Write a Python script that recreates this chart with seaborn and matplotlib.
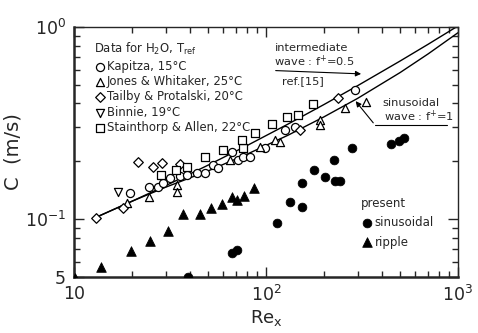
import matplotlib
matplotlib.use("Agg")
import numpy as np
import pandas as pd
import seaborn as sns
import matplotlib.pyplot as plt

# ---------------- data ----------------
kapitza_re = [19.6, 24.6, 27.4, 29.1, 31.6, 35.6, 38.8, 43.7, 48.1, 52.9, 56.2, 66.5, 71.5, 75.9, 82.5, 98.9, 126, 141, 291]
kapitza_c = [0.137, 0.147, 0.147, 0.154, 0.164, 0.168, 0.170, 0.174, 0.174, 0.191, 0.184, 0.223, 0.203, 0.210, 0.210, 0.234, 0.291, 0.301, 0.470]

jones_re = [18.9, 24.6, 34.4, 34.4, 64.9, 93.1, 111, 118, 191, 191, 258, 332]
jones_c = [0.121, 0.130, 0.150, 0.138, 0.203, 0.237, 0.258, 0.252, 0.328, 0.309, 0.379, 0.407]

tailby_re = [13.0, 18.0, 21.5, 25.8, 28.7, 35.6, 150, 237]
tailby_c = [0.102, 0.114, 0.198, 0.187, 0.196, 0.193, 0.291, 0.427]

binnie_re = [16.9]
binnie_c = [0.138]

stain_re = [28.4, 34.0, 38.8, 48.1, 59.7, 75.9, 75.0, 87.7, 107, 129, 147, 176]
stain_c = [0.170, 0.180, 0.187, 0.210, 0.229, 0.234, 0.258, 0.281, 0.313, 0.340, 0.348, 0.397]

sinus_re = [39.3, 66.5, 70.6, 114, 133, 154, 154, 178, 203, 226, 229, 243, 280, 448, 493, 524]
sinus_c = [0.050, 0.0665, 0.069, 0.0953, 0.123, 0.1155, 0.154, 0.180, 0.1655, 0.203, 0.158, 0.158, 0.234, 0.246, 0.255, 0.264]

ripple_re = [10.1, 13.8, 19.8, 24.9, 30.9, 37.0, 45.3, 51.7, 59.0, 66.5, 70.6, 76.8, 86.6]
ripple_c = [0.0495, 0.0562, 0.0681, 0.0768, 0.0866, 0.106, 0.106, 0.114, 0.120, 0.130, 0.126, 0.132, 0.145]

# model curves (ref. [15])
inter_re = [13, 20, 30, 50, 80, 130, 200, 300, 500, 700, 1000]
inter_c = [0.1022, 0.1239, 0.1494, 0.1912, 0.2421, 0.3122, 0.3944, 0.4948, 0.6653, 0.8133, 1.012]
sinwave_re = [13, 20, 30, 50, 80, 130, 200, 300, 500, 700, 1000]
sinwave_c = [0.1022, 0.1239, 0.1467, 0.1784, 0.2183, 0.2732, 0.3403, 0.4250, 0.5794, 0.7247, 0.933]

legend_labels = ["Kapitza, 15\u00b0C", "Jones & Whitaker, 25\u00b0C",
                 "Tailby & Protalski, 20\u00b0C", "Binnie, 19\u00b0C",
                 "Stainthorp & Allen, 22\u00b0C"]

# ---------------- figure ----------------
sns.set_style("ticks")
plt.rcParams["font.family"] = ["DejaVu Sans"]
plt.rcParams["mathtext.default"] = "regular"

fig = plt.figure(figsize=(4.78, 3.33), dpi=100)
ax = fig.add_axes([0.155, 0.168, 0.803, 0.751])

sns.lineplot(x=inter_re, y=inter_c, sort=False, estimator=None, color="black", lw=1.0, ax=ax)
sns.lineplot(x=sinwave_re, y=sinwave_c, sort=False, estimator=None, color="black", lw=1.0, ax=ax)

open_kw = dict(s=34, color="white", edgecolor="black", linewidth=0.9, ax=ax, zorder=3)
series = [(kapitza_re, kapitza_c, "o"), (jones_re, jones_c, "^"), (tailby_re, tailby_c, "D"),
          (binnie_re, binnie_c, "v"), (stain_re, stain_c, "s")]
handles1 = []
for (xr, yc, m), lab in zip(series, legend_labels):
    kw = dict(open_kw)
    if m == "D":
        kw["s"] = 24
    if m == "s":
        kw["s"] = 30
    sns.scatterplot(x=xr, y=yc, marker=m, **kw)
    handles1.append(ax.collections[-1])

sns.scatterplot(x=sinus_re, y=sinus_c, marker="o", s=40, color="black", edgecolor="black", ax=ax, zorder=3)
h_sin = ax.collections[-1]
sns.scatterplot(x=ripple_re, y=ripple_c, marker="^", s=48, color="black", edgecolor="black", ax=ax, zorder=3)
h_rip = ax.collections[-1]

ax.set_xscale("log")
ax.set_yscale("log")
ax.set_xlim(10, 1000)
ax.set_ylim(0.05, 1.0)

ax.set_xticks([10, 100, 1000], ["10", r"$10^2$", r"$10^3$"])
ax.set_yticks([0.05, 0.1, 1.0], ["5", r"$10^{-1}$", r"$10^0$"])
ax.set_xticks([v * d for d in (10, 100) for v in range(2, 10)], minor=True)
ax.set_yticks([0.06, 0.07, 0.08, 0.09] + [v / 10 for v in range(2, 10)], minor=True)
ax.tick_params(which="both", direction="in", top=True, right=True, labelsize=12.5, width=1.0)
ax.tick_params(which="major", length=7, pad=6)
ax.tick_params(which="minor", length=4, labelleft=False, labelbottom=False)

for side in ["left", "bottom"]:
    ax.spines[side].set_linewidth(1.8)
for side in ["top", "right"]:
    ax.spines[side].set_linewidth(1.0)
    ax.spines[side].set_visible(True)

ax.set_ylabel("C  (m/s)", fontsize=14)
ax.yaxis.set_label_coords(-0.135, 0.5)
ax.set_xlabel("Re$_x$", fontsize=13, labelpad=2)

leg1 = ax.legend(handles=handles1, labels=legend_labels, loc="upper left",
                 bbox_to_anchor=(0.03, 0.975), frameon=False, fontsize=8.4,
                 title="Data for H$_2$O, T$_{ref}$", title_fontsize=8.4,
                 handletextpad=0.1, labelspacing=0.2, borderpad=0.2,
                 handlelength=1.0, alignment="left")
ax.add_artist(leg1)
leg2 = ax.legend(handles=[h_sin, h_rip], labels=["sinusoidal", "ripple"],
                 loc="upper left", bbox_to_anchor=(0.725, 0.355), frameon=False,
                 fontsize=8.5, title="present", title_fontsize=8.5,
                 handletextpad=0.2, labelspacing=0.55, borderpad=0.2,
                 handlelength=1.0, alignment="left")

# annotations
ax.text(0.523, 0.916, "intermediate", transform=ax.transAxes, fontsize=8.2, va="center")
ax.text(0.52, 0.862, "wave : f$^{+}$=0.5", transform=ax.transAxes, fontsize=8.2, va="center")
ax.annotate("", xy=(0.755, 0.812), xytext=(0.518, 0.826), xycoords="axes fraction",
            arrowprops=dict(arrowstyle="-|>", color="black", lw=0.8, mutation_scale=8))
ax.text(0.596, 0.785, "ref.[15]", transform=ax.transAxes, fontsize=8.2, va="center", ha="center")

ax.text(0.802, 0.696, "sinusoidal", transform=ax.transAxes, fontsize=8.2, va="center")
ax.text(0.807, 0.642, "wave : f$^{+}$=1", transform=ax.transAxes, fontsize=8.2, va="center")
ax.plot([0.784, 0.971], [0.608, 0.608], transform=ax.transAxes, color="black", lw=0.8)
ax.annotate("", xy=(0.729, 0.712), xytext=(0.784, 0.608), xycoords="axes fraction",
            arrowprops=dict(arrowstyle="-|>", color="black", lw=0.8, mutation_scale=8))

fig.savefig("out.png", dpi=100)
